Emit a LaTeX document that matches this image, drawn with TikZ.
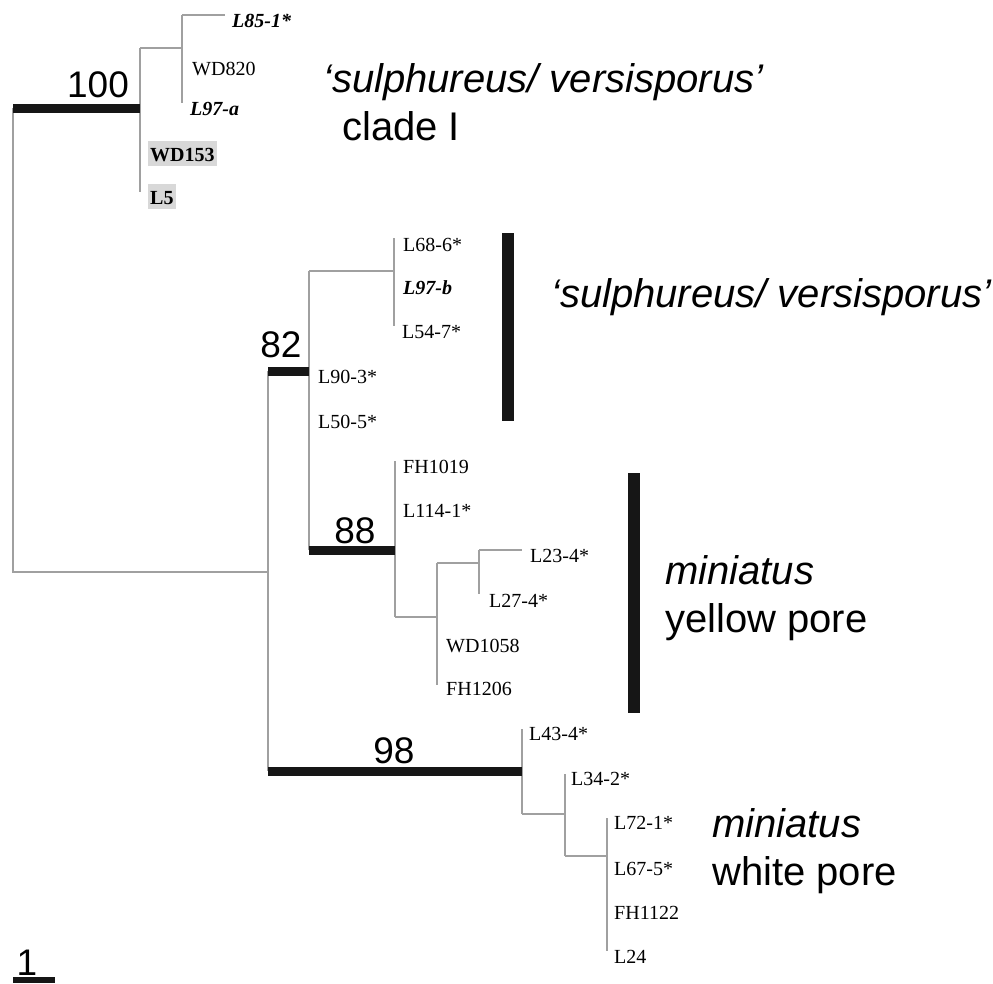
\documentclass[tikz,border=0pt]{standalone}
\usepackage{fontspec}
\setmainfont{Liberation Serif}
\newfontfamily\hv{Liberation Sans}
\definecolor{br}{HTML}{A0A0A0}
\definecolor{bk}{HTML}{161616}
\definecolor{hl}{HTML}{D8D8D8}
\tikzset{
  brl/.style={draw=br, line width=1.5pt},
  supp/.style={draw=bk, line width=9pt, line cap=butt},
  tip/.style={anchor=base west, inner sep=0pt, font=\fontsize{20}{24}\selectfont},
  tipbi/.style={anchor=base west, inner sep=0pt, font=\fontsize{20}{24}\selectfont\bfseries\itshape},
  hlbox/.style={anchor=base west, fill=hl, inner xsep=2pt, inner ysep=0pt, text height=20pt, text depth=5pt, font=\fontsize{20}{24}\selectfont\bfseries},
  big/.style={anchor=base west, inner sep=0pt, font=\hv\fontsize{40}{48}\selectfont},
  bigit/.style={anchor=base west, inner sep=0pt, font=\hv\itshape\fontsize{40}{48}\selectfont},
  bs/.style={anchor=base, inner sep=0pt, font=\hv\fontsize{37}{44}\selectfont},
  cbar/.style={fill=bk, draw=none}
}
\begin{document}
\begin{tikzpicture}[x=1pt,y=-1pt]
\useasboundingbox (0,0) rectangle (993,983);
% tree coordinates
\coordinate (R) at (13,108);  \coordinate (Rb) at (13,572);
\coordinate (A) at (140,108); \coordinate (At) at (140,48); \coordinate (Ab) at (140,192);
\coordinate (B) at (182,48);  \coordinate (Bt) at (182,15); \coordinate (Bb) at (182,103);
\coordinate (t85) at (225,15);
\coordinate (C) at (268,572); \coordinate (Ct) at (268,371); \coordinate (Cb) at (268,771);
\coordinate (D) at (309,371); \coordinate (Dt) at (309,271); \coordinate (Db) at (309,550);
\coordinate (E) at (394,271); \coordinate (Et) at (394,238); \coordinate (Eb) at (394,326);
\coordinate (F) at (395,550); \coordinate (Ft) at (395,461); \coordinate (Fb) at (395,617);
\coordinate (G) at (437,617); \coordinate (Gt) at (437,563); \coordinate (Gb) at (437,685);
\coordinate (H) at (479,563); \coordinate (Ht) at (479,550); \coordinate (Hb) at (479,594);
\coordinate (t23) at (522,550);
\coordinate (I) at (522,771); \coordinate (It) at (522,729); \coordinate (Ib) at (522,814);
\coordinate (J) at (565,814); \coordinate (Jt) at (565,774); \coordinate (Jb) at (565,856);
\coordinate (K) at (607,856); \coordinate (Kt) at (607,818); \coordinate (Kb) at (607,951);
% thin branches
\draw[brl] (R) -- (Rb) -- (C);
\draw[brl] (At) -- (Ab);
\draw[brl] (At) -- (B);
\draw[brl] (Bt) -- (Bb);
\draw[brl] (Bt) -- (t85);
\draw[brl] (Ct) -- (Cb);
\draw[brl] (Dt) -- (Db);
\draw[brl] (Dt) -- (E);
\draw[brl] (Et) -- (Eb);
\draw[brl] (Ft) -- (Fb);
\draw[brl] (Fb) -- (G);
\draw[brl] (Gt) -- (Gb);
\draw[brl] (Gt) -- (H);
\draw[brl] (Ht) -- (Hb);
\draw[brl] (Ht) -- (t23);
\draw[brl] (It) -- (Ib);
\draw[brl] (Ib) -- (J);
\draw[brl] (Jt) -- (Jb);
\draw[brl] (Jb) -- (K);
\draw[brl] (Kt) -- (Kb);
% supported branches
\draw[supp] (R) -- (A);
\draw[supp] (Ct) -- (D);
\draw[supp] (Db) -- (F);
\draw[supp] (Cb) -- (I);
% support values
\node[bs] (s100) at (98,97) {100};
\node[bs] (s82) at (281,357) {82};
\node[bs] (s88) at (355,543) {88};
\node[bs] (s98) at (394,763) {98};
% tip labels
\node[tipbi] (L851) at (232,27) {L85-1*};
\node[tip] (WD820) at (192,75) {WD820};
\node[tipbi] (L97a) at (190,115) {L97-a};
\node[hlbox] (WD153) at (148,161) {WD153};
\node[hlbox] (L5) at (148,204) {L5};
\node[tip] (L686) at (403,251) {L68-6*};
\node[tipbi] (L97b) at (403,294) {L97-b};
\node[tip] (L547) at (402,338) {L54-7*};
\node[tip] (L903) at (318,383) {L90-3*};
\node[tip] (L505) at (318,428) {L50-5*};
\node[tip] (FH1019) at (403,473) {FH1019};
\node[tip] (L1141) at (403,517) {L114-1*};
\node[tip] (L234) at (530,562) {L23-4*};
\node[tip] (L274) at (489,607) {L27-4*};
\node[tip] (WD1058) at (446,652) {WD1058};
\node[tip] (FH1206) at (446,695) {FH1206};
\node[tip] (L434) at (529,740) {L43-4*};
\node[tip] (L342) at (571,785) {L34-2*};
\node[tip] (L721) at (614,829) {L72-1*};
\node[tip] (L675) at (614,875) {L67-5*};
\node[tip] (FH1122) at (614,919) {FH1122};
\node[tip] (L24) at (614,963) {L24};
% clade bars
\fill[cbar] (502,233) rectangle (514,421);
\fill[cbar] (628,473) rectangle (640,713);
% clade names
\node[bigit] (c1a) at (323,92) {‘sulphureus/ versisporus’};
\node[big] (c1b) at (342,140) {clade I};
\node[bigit] (c2) at (551,307) {‘sulphureus/ versisporus’};
\node[bigit] (c3a) at (665,584) {miniatus};
\node[big] (c3b) at (665,632) {yellow pore};
\node[bigit] (c4a) at (712,837) {miniatus};
\node[big] (c4b) at (712,885) {white pore};
% scale bar
\fill[cbar] (13,977) rectangle (55,983);
\node[bs] (one) at (27,975) {1};
\end{tikzpicture}
\end{document}
